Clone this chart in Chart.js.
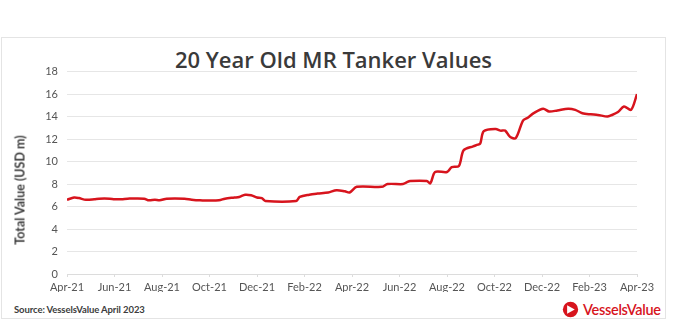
<!DOCTYPE html>
<html>
<head>
<meta charset="utf-8">
<script src="https://cdn.jsdelivr.net/npm/chart.js@4"></script>
<style>
  html, body { margin: 0; padding: 0; background: #fff; }
  body { width: 673px; height: 332px; position: relative; overflow: hidden; font-family: 'Lato', 'Open Sans', sans-serif; }
  .card { position: absolute; left: 1px; top: 37px; width: 665px; height: 282px; border: 1px solid #e4e4e4; box-sizing: border-box; }
  .title { position: absolute; left: 0; width: 667px; top: 44px; text-align: center; font-size: 22px; font-weight: 600; color: #3a3a3a; font-family: 'Open Sans', sans-serif; }
  .chart-box { position: absolute; left: 8px; top: 56px; width: 660px; height: 236px; }
  .ytitle { position: absolute; left: 20px; top: 190px; transform: translate(-50%, -50%) rotate(-90deg); white-space: nowrap; font-size: 12.5px; font-weight: 700; color: #3c3c3c; }
  .source { position: absolute; left: 14px; top: 304px; font-size: 9.5px; font-weight: 700; color: #3c3c3c; letter-spacing: -0.1px; }
  .logo { position: absolute; left: 562px; top: 301px; display: flex; align-items: center; color: #d7141d; font-size: 14.5px; font-weight: 600; letter-spacing: -0.3px; }
  .logo svg { margin-right: 4px; }
</style>
</head>
<body>
<div class="card"></div>
<div class="title">20 Year Old MR Tanker Values</div>
<div class="chart-box"><canvas id="chart"></canvas></div>
<div class="ytitle">Total Value (USD m)</div>
<div class="source">Source: VesselsValue April 2023</div>
<div class="logo">
  <svg width="17" height="17" viewBox="0 0 20 20"><circle cx="10" cy="10" r="9" fill="#d7141d"/><path d="M6 5 L15 10 L6 15 Z" fill="#fff"/></svg>
  VesselsValue
</div>
<script>
// months after Apr-21 (fractional) and value in USD m
const monthOffsets = [
  0.0, 0.3, 0.5, 0.8, 1.15, 1.35, 1.8, 2.0, 2.3, 2.55, 3.25, 3.45, 3.7, 3.9, 4.2, 4.95,
  5.25, 5.6, 6.4, 6.65, 7.05, 7.25, 7.5, 7.75, 8.0, 8.2, 8.35, 9.65, 9.8, 10.2, 10.55,
  11.0, 11.35, 11.7, 11.9, 12.2, 13.25, 13.5, 14.15, 14.3, 14.45, 15.15, 15.3, 15.5,
  16.0, 16.2, 16.5, 16.7, 17.1, 17.3, 17.4, 17.55, 18.05, 18.25, 18.45, 18.65, 18.9,
  19.2, 19.4, 19.65, 20.05, 20.3, 20.65, 21.1, 21.4, 21.7, 22.05, 22.35, 22.75, 22.9,
  23.2, 23.45, 23.75, 24.0
];
const values = [
  6.6, 6.8, 6.75, 6.6, 6.65, 6.7, 6.7, 6.65, 6.65, 6.7, 6.7, 6.55, 6.6, 6.55, 6.7, 6.7,
  6.6, 6.55, 6.55, 6.7, 6.8, 6.85, 7.05, 7.0, 6.8, 6.75, 6.5, 6.5, 6.85, 7.05, 7.15,
  7.25, 7.45, 7.35, 7.25, 7.75, 7.75, 8.0, 8.0, 8.15, 8.27, 8.27, 8.07, 9.07,
  9.07, 9.5, 9.6, 11.0, 11.35, 11.5, 11.6, 12.7, 12.9, 12.75, 12.75, 12.2, 12.1,
  13.65, 13.9, 14.3, 14.7, 14.45, 14.55, 14.7, 14.6, 14.3, 14.2, 14.15, 14.0, 14.1,
  14.4, 14.9, 14.6, 16.0
];
const tickLabels = ['Apr-21', 'Jun-21', 'Aug-21', 'Oct-21', 'Dec-21', 'Feb-22', 'Apr-22',
  'Jun-22', 'Aug-22', 'Oct-22', 'Dec-22', 'Feb-23', 'Apr-23'];

const points = monthOffsets.map((m, i) => ({ x: m, y: values[i] }));
const tickFont = { family: 'Lato', size: 11 };

new Chart(document.getElementById('chart'), {
  type: 'line',
  data: {
    datasets: [{
      data: points,
      borderColor: '#d7141d',
      borderWidth: 2.5,
      pointRadius: 0,
      tension: 0.3,
      fill: false
    }]
  },
  options: {
    responsive: true,
    maintainAspectRatio: false,
    animation: false,
    layout: { padding: { top: 7, right: 31, left: 0, bottom: 0 } },
    plugins: { legend: { display: false }, tooltip: { enabled: false } },
    scales: {
      x: {
        type: 'linear',
        min: 0,
        max: 24,
        ticks: {
          stepSize: 2,
          color: '#555',
          font: tickFont,
          padding: 4,
          maxRotation: 0,
          callback: (v) => tickLabels[v / 2]
        },
        grid: { display: true, drawOnChartArea: false, tickLength: 3, color: '#dcdcdc' },
        border: { color: '#dcdcdc' },
        afterFit: (scale) => { scale.height = 18; }
      },
      y: {
        min: 0,
        max: 18,
        ticks: { stepSize: 2, color: '#555', font: tickFont, padding: 9 },
        grid: { color: '#e6e6e6', drawTicks: false },
        border: { display: false },
        afterFit: (scale) => { scale.width = 59; }
      }
    }
  }
});
</script>
</body>
</html>
